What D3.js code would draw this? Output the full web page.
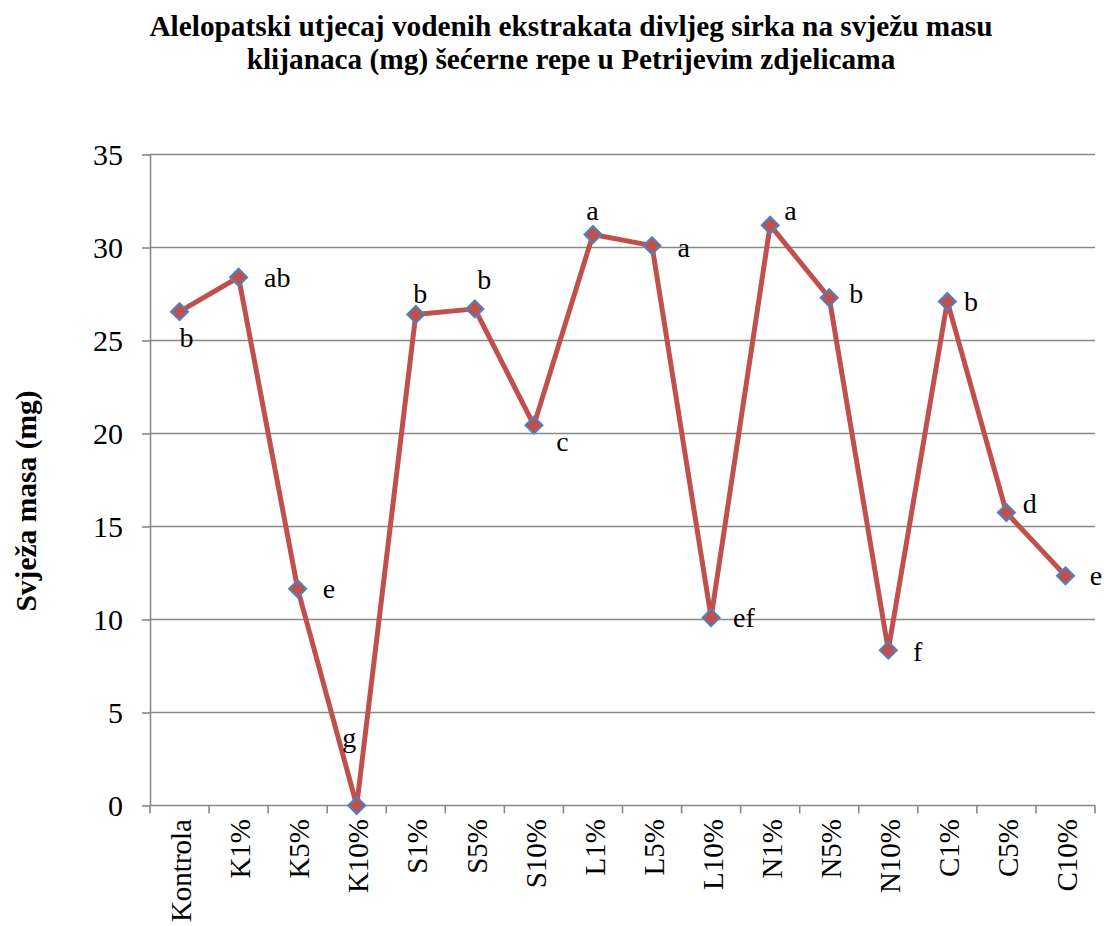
<!DOCTYPE html>
<html><head><meta charset="utf-8">
<script src="https://cdn.jsdelivr.net/npm/d3@7"></script>
<style>body{margin:0;background:#fff}svg{display:block}</style>
</head><body><svg id="c" width="1104" height="926"></svg>
<script>
const categories = ["Kontrola","K1%","K5%","K10%","S1%","S5%","S10%","L1%","L5%","L10%","N1%","N5%","N10%","C1%","C5%","C10%"];
const values = [26.55,28.4,11.65,0,26.4,26.7,20.45,30.7,30.1,10.1,31.2,27.3,8.35,27.1,15.75,12.35];
const letters = ["b","ab","e","g","b","b","c","a","a","ef","a","b","f","b","d","e"];
const yTicks = [0,5,10,15,20,25,30,35];
const titleLines = ["Alelopatski utjecaj vodenih ekstrakata divljeg sirka na svježu masu","klijanaca (mg) šećerne repe u Petrijevim zdjelicama"];
const yTitle = "Svježa masa (mg)";
// label placement (layout only): offset of text start / baseline from its point
const labelOffsets = [[0,35],[25.5,9.5],[25,9.5],[-14.5,-59],[-2.5,-11],[2.5,-20],[22.4,26],[-6.6,-14.5],[25.5,11],[22,9],[14,-5],[20,5],[24.7,11],[16.7,10],[16.3,0],[24.4,9]];

const svg = d3.select("#c");
const font = "Liberation Serif, Times New Roman, serif";
const x = d3.scaleBand().domain(categories).range([150,1095]);
const y = d3.scaleLinear().domain([0,35]).range([805.5,154.5]);
const grid = "#898989";

// gridlines
svg.append("g").selectAll("line").data(yTicks.filter(t=>t>0)).join("line")
  .attr("x1",150).attr("x2",1095).attr("y1",d=>y(d)).attr("y2",d=>y(d))
  .attr("stroke",grid).attr("stroke-width",1.6);

// y axis
const ya = svg.append("g").attr("transform","translate(150,0)")
  .call(d3.axisLeft(y).tickValues(yTicks).tickSize(8).tickPadding(19).tickSizeOuter(0));
ya.attr("font-family",font);
ya.select(".domain").attr("stroke",grid).attr("stroke-width",1.6);
ya.selectAll(".tick line").attr("stroke",grid).attr("stroke-width",1.6);
ya.selectAll(".tick text").attr("font-family",font).attr("font-size",30).attr("fill","#000");

// x axis line and boundary ticks
svg.append("line").attr("x1",150).attr("x2",1095).attr("y1",y(0)).attr("y2",y(0))
  .attr("stroke",grid).attr("stroke-width",1.6);
const bounds = d3.range(categories.length+1).map(i => x.range()[0] + i*x.step());
svg.append("g").selectAll("line").data(bounds).join("line")
  .attr("x1",d=>d).attr("x2",d=>d).attr("y1",y(0)).attr("y2",y(0)+8)
  .attr("stroke",grid).attr("stroke-width",1.6);

// category labels
svg.append("g").selectAll("text").data(categories).join("text")
  .attr("transform",d=>`translate(${x(d)+x.bandwidth()/2+1.5},819) rotate(-90)`)
  .attr("text-anchor","end").attr("dy","0.35em")
  .attr("font-family",font).attr("font-size",29).text(d=>d);

// line
const pts = categories.map((c,i)=>({c, v:values[i], l:letters[i], o:labelOffsets[i]}));
const cx = d => x(d.c)+x.bandwidth()/2;
svg.append("path").datum(pts)
  .attr("d", d3.line().x(cx).y(d=>y(d.v)))
  .attr("fill","none").attr("stroke","#C0504D").attr("stroke-width",5).attr("stroke-linejoin","round");

// markers
const r = 8.5;
svg.append("g").selectAll("path").data(pts).join("path")
  .attr("transform",d=>`translate(${cx(d)},${y(d.v)})`)
  .attr("d",`M0,${-r}L${r},0L0,${r}L${-r},0Z`)
  .attr("fill","#C0504D").attr("stroke","#4F81BD").attr("stroke-width",2);

// data labels
svg.append("g").selectAll("text").data(pts).join("text")
  .attr("x",d=>cx(d)+d.o[0]).attr("y",d=>y(d.v)+d.o[1])
  .attr("font-family",font).attr("font-size",28).text(d=>d.l);

// title
svg.append("g").selectAll("text").data(titleLines).join("text")
  .attr("x",571).attr("y",(d,i)=>36+i*33).attr("text-anchor","middle")
  .attr("font-family",font).attr("font-weight","bold").attr("font-size",29.3).text(d=>d);

// y title
svg.append("text").attr("transform","translate(36,501) rotate(-90)")
  .attr("text-anchor","middle").attr("font-family",font).attr("font-weight","bold")
  .attr("font-size",29.5).text(yTitle);
</script></body></html>
